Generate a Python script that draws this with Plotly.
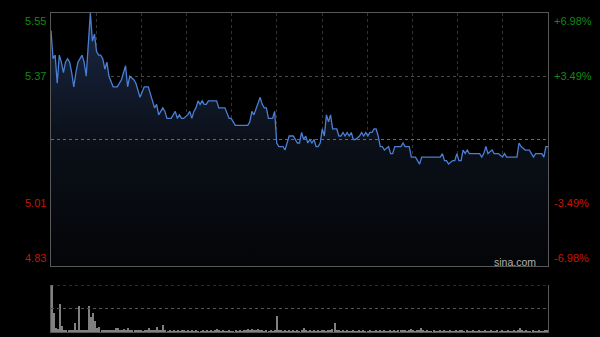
import plotly.graph_objects as go

# ---- data ----
minutes = [0, 1, 2, 3, 4, 5, 6, 7, 8, 9, 10, 11, 12, 13, 15, 16, 17, 18, 19, 20,
           21, 22, 23, 24, 25, 26, 27, 28, 30, 32, 33, 34, 36, 37, 38, 40, 41, 42, 43, 45,
           47, 49, 50, 51, 52, 53, 54, 55, 56, 57, 58, 59, 60, 61, 62, 63, 64, 66, 67, 68,
           69, 70, 71, 72, 73, 74, 75, 76, 80, 81, 84, 86, 87, 89, 95, 96, 97, 98, 100, 101,
           102, 103, 104, 105, 107, 108, 109, 110, 112, 113, 114, 115, 117, 118, 119, 120, 121, 122, 123, 124,
           125, 126, 127, 128, 129, 130, 131, 132, 133, 134, 135, 136, 138, 139, 140, 141, 142, 143, 144, 145,
           146, 147, 149, 150, 151, 152, 153, 154, 155, 156, 157, 158, 159, 160, 161, 163, 164, 165, 166, 168,
           169, 170, 171, 172, 173, 174, 176, 177, 178, 179, 188, 189, 190, 191, 192, 194, 195, 196, 197, 198,
           199, 200, 201, 202, 207, 208, 209, 210, 211, 213, 214, 215, 216, 218, 219, 220, 225, 226, 227, 229,
           231, 232, 233, 234, 236, 237, 238, 239, 240]
prices = [5.50, 5.42, 5.43, 5.35, 5.43, 5.41, 5.38, 5.41, 5.42, 5.41, 5.38, 5.34, 5.38, 5.41, 5.43, 5.41, 5.37, 5.47, 5.55, 5.47,
          5.49, 5.44, 5.43, 5.43, 5.42, 5.39, 5.41, 5.37, 5.34, 5.34, 5.35, 5.36, 5.40, 5.34, 5.37, 5.36, 5.35, 5.33, 5.31, 5.34,
          5.34, 5.30, 5.28, 5.29, 5.26, 5.27, 5.28, 5.27, 5.25, 5.25, 5.25, 5.26, 5.27, 5.25, 5.26, 5.25, 5.25, 5.26, 5.27, 5.25,
          5.27, 5.28, 5.30, 5.29, 5.30, 5.29, 5.29, 5.30, 5.30, 5.28, 5.28, 5.25, 5.25, 5.23, 5.23, 5.24, 5.27, 5.26, 5.29, 5.31,
          5.29, 5.28, 5.28, 5.25, 5.25, 5.27, 5.18, 5.17, 5.17, 5.16, 5.18, 5.20, 5.20, 5.19, 5.18, 5.18, 5.21, 5.19, 5.20, 5.18,
          5.19, 5.18, 5.19, 5.17, 5.17, 5.18, 5.22, 5.20, 5.26, 5.24, 5.26, 5.22, 5.22, 5.20, 5.20, 5.21, 5.20, 5.21, 5.20, 5.21,
          5.19, 5.19, 5.20, 5.21, 5.20, 5.21, 5.20, 5.21, 5.21, 5.22, 5.22, 5.20, 5.17, 5.17, 5.16, 5.17, 5.15, 5.15, 5.17, 5.17,
          5.17, 5.18, 5.17, 5.17, 5.17, 5.14, 5.14, 5.13, 5.12, 5.14, 5.14, 5.15, 5.13, 5.13, 5.12, 5.13, 5.13, 5.15, 5.13, 5.13,
          5.16, 5.15, 5.16, 5.15, 5.15, 5.14, 5.15, 5.17, 5.15, 5.16, 5.15, 5.15, 5.15, 5.14, 5.15, 5.14, 5.14, 5.18, 5.17, 5.16,
          5.16, 5.15, 5.14, 5.15, 5.15, 5.15, 5.14, 5.17, 5.17]

volume = [100, 40, 8, 6, 60, 12, 4, 3, 5, 3, 4, 19, 3, 55, 4, 3, 5, 3, 55, 32,
          40, 24, 8, 10, 4, 3, 5, 3, 4, 3, 5, 8, 8, 3, 4, 7, 3, 8, 3, 4,
          3, 5, 4, 3, 2, 5, 3, 8, 4, 3, 5, 10, 3, 4, 14, 3, 2, 3, 2, 3,
          2, 3, 2, 4, 3, 2, 3, 2, 3, 2, 3, 2, 2, 3, 2, 4, 2, 3, 2, 3,
          6, 3, 2, 3, 2, 2, 3, 2, 2, 3, 2, 3, 2, 5, 3, 6, 4, 6, 3, 5,
          6, 3, 4, 2, 3, 2, 3, 2, 3, 34, 5, 3, 2, 3, 2, 3, 2, 4, 2, 3,
          2, 3, 9, 3, 2, 3, 2, 3, 2, 3, 2, 4, 3, 2, 5, 3, 6, 20, 4, 3,
          2, 3, 2, 3, 2, 2, 3, 2, 2, 3, 2, 3, 2, 2, 3, 2, 2, 3, 2, 3,
          2, 3, 2, 2, 3, 2, 3, 2, 4, 3, 5, 3, 2, 3, 7, 3, 2, 5, 3, 9,
          3, 2, 3, 2, 2, 3, 2, 2, 3, 2, 3, 2, 2, 3, 2, 2, 3, 2, 3, 5,
          2, 3, 2, 2, 3, 2, 2, 3, 2, 2, 3, 2, 2, 3, 2, 2, 3, 2, 3, 2,
          2, 3, 2, 2, 3, 2, 4, 9, 3, 2, 3, 2, 2, 3, 2, 2, 3, 2, 2, 3, 4]
vol_minutes = list(range(len(volume)))

prev_close = 5.19
price_ticks = [5.55, 5.37, 5.01, 4.83]
pct_labels = ["+6.98%", "+3.49%", "-3.49%", "-6.98%"]

GREEN = "#138a13"
RED = "#c81400"
FONT = "Liberation Sans, Arial, sans-serif"

fig = go.Figure()

fig.add_trace(go.Scatter(
    x=minutes, y=prices, mode="lines",
    line=dict(color="#4a7fd4", width=1.3),
    fill="tozeroy",
    fillgradient=dict(type="vertical",
                      colorscale=[[0, "#040508"], [0.5, "#0b1019"], [1, "#1b2946"]],
                      start=4.83, stop=5.55),
    xaxis="x", yaxis="y", hoverinfo="skip"))

fig.add_trace(go.Bar(
    x=vol_minutes, y=volume, marker=dict(color="#808080", line=dict(width=0)),
    width=0.5, xaxis="x2", yaxis="y2", hoverinfo="skip"))

xd = [51 / 600, 548 / 600]
fig.update_layout(
    width=600, height=337, margin=dict(l=0, r=0, t=0, b=0),
    paper_bgcolor="#000000", plot_bgcolor="rgba(0,0,0,0)",
    showlegend=False, bargap=0,
    font=dict(family=FONT, size=11),
    xaxis=dict(domain=xd, range=[0, 240], tick0=0, dtick=240 / 11,
               showticklabels=False, ticks="", showgrid=True,
               gridcolor="#333333", griddash="dot", gridwidth=1,
               showline=True, mirror=True, linecolor="#585858", linewidth=1,
               zeroline=False, anchor="y"),
    yaxis=dict(domain=[(337 - 266) / 337, (337 - 13) / 337], range=[4.83, 5.55],
               tickvals=[5.01, 5.37], showticklabels=False, ticks="",
               showgrid=True, gridcolor="#4a4a4a", griddash="dot", gridwidth=1,
               showline=True, mirror=True, linecolor="#585858", linewidth=1,
               zeroline=False, anchor="x"),
    xaxis2=dict(domain=xd, range=[-0.5, 240.5], showticklabels=False, ticks="",
                showgrid=False, showline=True, mirror=False, linecolor="#585858",
                linewidth=1, zeroline=False, anchor="y2"),
    yaxis2=dict(domain=[(337 - 332) / 337, (337 - 285) / 337], range=[0, 100],
                showticklabels=False, ticks="", showgrid=False,
                showline=True, mirror=True, linecolor="#585858", linewidth=1,
                zeroline=False, anchor="x2"),
)

# previous close reference line
fig.add_shape(type="line", xref="x", yref="y", x0=0, x1=240, y0=prev_close, y1=prev_close,
              line=dict(color="#6a6a6a", width=1, dash="dot"))
# volume panel dotted guides
for v in (50, 100):
    fig.add_shape(type="line", xref="x2", yref="y2", x0=-0.5, x1=240.5, y0=v, y1=v,
                  line=dict(color="#555555", width=1, dash="dot"))

anchors = ["top", "middle", "middle", "bottom"]
colors = [GREEN, GREEN, RED, RED]
for val, pct, anc, col in zip(price_ticks, pct_labels, anchors, colors):
    fig.add_annotation(x=48 / 600, xref="paper", y=val, yref="y", text=f"{val:.2f}",
                       showarrow=False, xanchor="right", yanchor=anc,
                       font=dict(color=col, size=11, family=FONT))
    fig.add_annotation(x=552 / 600, xref="paper", y=val, yref="y", text=pct,
                       showarrow=False, xanchor="left", yanchor=anc,
                       font=dict(color=col, size=11, family=FONT))

fig.add_annotation(x=538 / 600, xref="paper", y=(337 - 262) / 337, yref="paper",
                   text="sina.com", showarrow=False, xanchor="right", yanchor="middle",
                   font=dict(color="#b0b0b0", size=10.5, family=FONT))

fig.write_html("out.html")
